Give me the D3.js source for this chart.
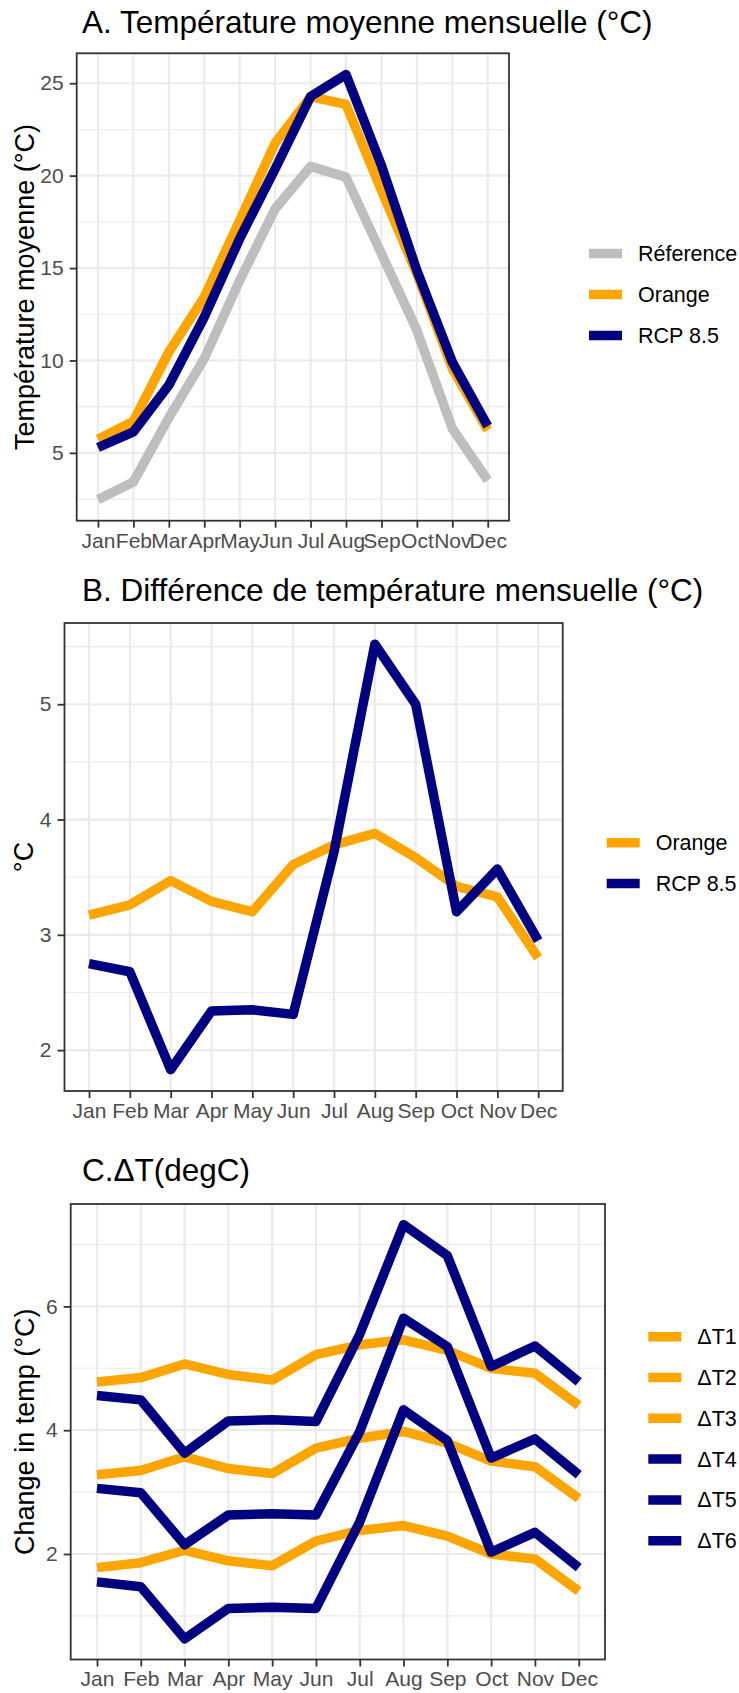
<!DOCTYPE html>
<html>
<head>
<meta charset="utf-8">
<script src="https://cdn.jsdelivr.net/npm/d3@7"></script>
<style>
  body { margin: 0; background: #fff; }
  text { font-family: "Liberation Sans", Arial, sans-serif; }
</style>
</head>
<body>
<script>
// data
var months = ["Jan","Feb","Mar","Apr","May","Jun","Jul","Aug","Sep","Oct","Nov","Dec"];

// A. mean monthly temperature
var refTemp    = [2.48, 3.43, 6.9, 10.1, 14.33, 18.2, 20.5, 19.92, 15.78, 11.63, 6.32, 3.52];
var orangeTemp = [5.74, 6.71, 10.46, 13.43, 17.58, 21.76, 24.28, 23.85, 19.2, 14.69, 9.56, 6.23];
var rcpTemp    = [5.29, 6.14, 8.66, 12.35, 16.59, 20.37, 24.28, 25.47, 20.55, 14.87, 9.92, 6.45];

// B. monthly difference
var orangeDiff = [3.17, 3.26, 3.47, 3.29, 3.20, 3.61, 3.78, 3.88, 3.67, 3.42, 3.33, 2.80];
var rcpDiff    = [2.75, 2.68, 1.83, 2.34, 2.35, 2.31, 3.72, 5.52, 5.00, 3.20, 3.57, 2.95];

// C. delta T
var dT1 = [4.78, 4.85, 5.07, 4.90, 4.81, 5.22, 5.38, 5.46, 5.29, 5.00, 4.92, 4.40];
var dT2 = [3.28, 3.35, 3.57, 3.38, 3.30, 3.71, 3.87, 3.98, 3.79, 3.50, 3.41, 2.90];
var dT3 = [1.78, 1.86, 2.06, 1.89, 1.81, 2.21, 2.38, 2.46, 2.29, 2.00, 1.92, 1.40];
var dT4 = [4.56, 4.49, 3.63, 4.15, 4.17, 4.14, 5.55, 7.32, 6.82, 5.03, 5.36, 4.78];
var dT5 = [3.06, 2.99, 2.15, 2.63, 2.65, 2.63, 3.98, 5.81, 5.35, 3.55, 3.86, 3.28];
var dT6 = [1.55, 1.47, 0.63, 1.12, 1.14, 1.12, 2.52, 4.33, 3.83, 2.03, 2.35, 1.78];

var ticksA = [5, 10, 15, 20, 25];
var ticksB = [2, 3, 4, 5];
var ticksC = [2, 4, 6];

var GREY = "#bebebe", ORANGE = "#ffa500", NAVY = "#000080";

var svg = d3.select("body").append("svg")
    .attr("width", 739)
    .attr("height", 1693);
svg.append("rect").attr("width", 739).attr("height", 1693).attr("fill", "#fff");

function drawPanel(cfg) {
    var g = svg.append("g");

    var x = d3.scalePoint()
        .domain(months)
        .range([cfg.left, cfg.right])
        .padding(0.6);

    var all = [];
    cfg.series.forEach(function(s) { all = all.concat(s.values); });
    var ext = d3.extent(all);
    var pad = (ext[1] - ext[0]) * 0.05;
    var y = d3.scaleLinear()
        .domain([ext[0] - pad, ext[1] + pad])
        .range([cfg.bottom, cfg.top]);

    // minor grid halfway between the breaks
    var step = cfg.ticks[1] - cfg.ticks[0];
    var minor = cfg.ticks.map(function(t) { return t - step / 2; });
    minor.push(cfg.ticks[cfg.ticks.length - 1] + step / 2);
    minor = minor.filter(function(v) { return v >= y.domain()[0] && v <= y.domain()[1]; });

    g.selectAll(".minor").data(minor).enter().append("line")
        .attr("x1", cfg.left).attr("x2", cfg.right)
        .attr("y1", function(d) { return y(d); }).attr("y2", function(d) { return y(d); })
        .attr("stroke", "#ebebeb").attr("stroke-width", 1.1);

    g.selectAll(".hmajor").data(cfg.ticks).enter().append("line")
        .attr("x1", cfg.left).attr("x2", cfg.right)
        .attr("y1", function(d) { return y(d); }).attr("y2", function(d) { return y(d); })
        .attr("stroke", "#ebebeb").attr("stroke-width", 2.2);

    g.selectAll(".vmajor").data(months).enter().append("line")
        .attr("x1", function(d) { return x(d); }).attr("x2", function(d) { return x(d); })
        .attr("y1", cfg.top).attr("y2", cfg.bottom)
        .attr("stroke", "#ebebeb").attr("stroke-width", 2.2);

    // the lines
    var line = d3.line()
        .x(function(d, i) { return x(months[i]); })
        .y(function(d) { return y(d); });

    cfg.series.forEach(function(s) {
        g.append("path")
            .datum(s.values)
            .attr("d", line)
            .attr("fill", "none")
            .attr("stroke", s.color)
            .attr("stroke-width", 9.5)
            .attr("stroke-linejoin", "round")
            .attr("stroke-linecap", "butt");
    });

    // panel border
    g.append("rect")
        .attr("x", cfg.left).attr("y", cfg.top)
        .attr("width", cfg.right - cfg.left).attr("height", cfg.bottom - cfg.top)
        .attr("fill", "none").attr("stroke", "#333333").attr("stroke-width", 1.8);

    // axes
    var xAxis = g.append("g")
        .attr("transform", "translate(0," + cfg.bottom + ")")
        .call(d3.axisBottom(x).tickSize(7).tickPadding(5));
    var yAxis = g.append("g")
        .attr("transform", "translate(" + cfg.left + ",0)")
        .call(d3.axisLeft(y).tickValues(cfg.ticks).tickFormat(d3.format("d")).tickSize(7).tickPadding(6));

    [xAxis, yAxis].forEach(function(ax) {
        ax.select(".domain").remove();
        ax.selectAll(".tick line").attr("stroke", "#333333").attr("stroke-width", 1.8);
        ax.selectAll(".tick text")
            .attr("fill", "#4d4d4d")
            .style("font-size", "21px")
            .style("font-family", "'Liberation Sans', Arial, sans-serif");
    });

    // titles
    svg.append("text")
        .attr("x", 82).attr("y", cfg.titleY)
        .style("font-size", "31.5px")
        .attr("fill", "#000")
        .text(cfg.title);

    svg.append("text")
        .attr("transform", "translate(" + cfg.yTitleX + "," + ((cfg.top + cfg.bottom) / 2) + ") rotate(-90)")
        .attr("text-anchor", "middle")
        .attr("dy", "0.35em")
        .style("font-size", "27px")
        .attr("fill", "#000")
        .text(cfg.yTitle);

    // legend
    var leg = svg.append("g");
    cfg.legend.forEach(function(s, i) {
        var ly = cfg.legY + i * cfg.legStep;
        leg.append("line")
            .attr("x1", cfg.keyX).attr("x2", cfg.keyX + 33)
            .attr("y1", ly).attr("y2", ly)
            .attr("stroke", s.color).attr("stroke-width", 9.5);
        leg.append("text")
            .attr("x", cfg.keyX + 49).attr("y", ly)
            .attr("dy", "0.35em")
            .style("font-size", "21.5px")
            .attr("fill", "#000")
            .text(s.name);
    });
}

var seriesA = [
    {name: "Réference", color: GREY, values: refTemp},
    {name: "Orange", color: ORANGE, values: orangeTemp},
    {name: "RCP 8.5", color: NAVY, values: rcpTemp}
];
drawPanel({
    left: 76.7, right: 509, top: 53.3, bottom: 520.7,
    ticks: ticksA, series: seriesA, legend: seriesA,
    title: "A. Température moyenne mensuelle (°C)", titleY: 33,
    yTitle: "Température moyenne (°C)", yTitleX: 25,
    keyX: 589, legY: 253.5, legStep: 41
});

var seriesB = [
    {name: "Orange", color: ORANGE, values: orangeDiff},
    {name: "RCP 8.5", color: NAVY, values: rcpDiff}
];
drawPanel({
    left: 64.5, right: 562.7, top: 623, bottom: 1091,
    ticks: ticksB, series: seriesB, legend: seriesB,
    title: "B. Différence de température mensuelle (°C)", titleY: 601,
    yTitle: "°C", yTitleX: 24,
    keyX: 606.7, legY: 842.7, legStep: 40.7
});

var seriesC = [
    {name: "ΔT1", color: ORANGE, values: dT1},
    {name: "ΔT2", color: ORANGE, values: dT2},
    {name: "ΔT3", color: ORANGE, values: dT3},
    {name: "ΔT4", color: NAVY, values: dT4},
    {name: "ΔT5", color: NAVY, values: dT5},
    {name: "ΔT6", color: NAVY, values: dT6}
];
drawPanel({
    left: 70.7, right: 605, top: 1204, bottom: 1659.5,
    ticks: ticksC, series: seriesC, legend: seriesC,
    title: "C.ΔT(degC)", titleY: 1181,
    yTitle: "Change in temp (°C)", yTitleX: 25,
    keyX: 648.3, legY: 1336.7, legStep: 40.8
});
</script>
</body>
</html>
